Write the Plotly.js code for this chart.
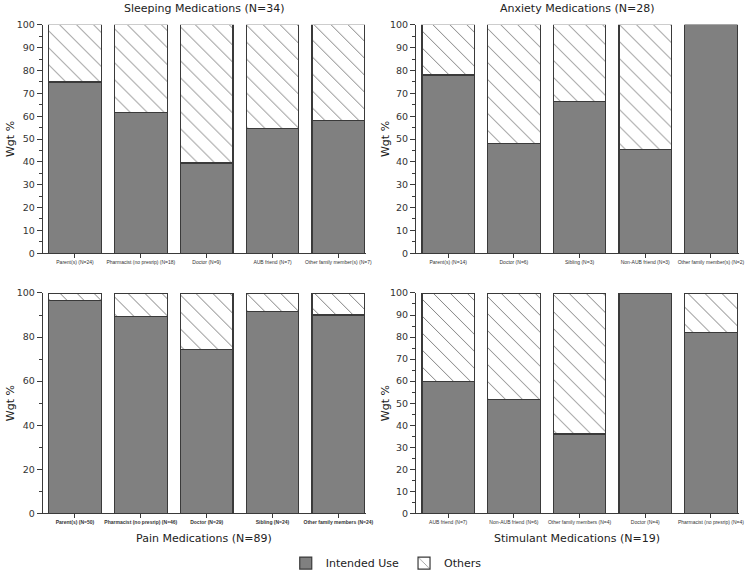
<!DOCTYPE html>
<html>
<head>
<meta charset="utf-8">
<script src="https://cdn.plot.ly/plotly-3.0.1.min.js"></script>
<style>html,body{margin:0;padding:0;background:#fff;}#chart{width:750px;height:578px;}</style>
</head>
<body>
<div id="chart"></div>
<script>
// ---- data ----
const sleepCats = ["Parent(s) (N=24)", "Pharmacist (no presrip) (N=18)", "Doctor (N=9)", "AUB friend (N=7)", "Other family member(s) (N=7)"];
const sleepIntended = [75, 61.5, 39.5, 54.5, 58];
const sleepOthers = [25, 38.5, 60.5, 45.5, 42];

const anxCats = ["Parent(s) (N=14)", "Doctor (N=6)", "Sibling (N=3)", "Non-AUB friend (N=3)", "Other family member(s) (N=2)"];
const anxIntended = [78, 48, 66.5, 45.5, 100];
const anxOthers = [22, 52, 33.5, 54.5, 0];

const painCats = ["Parent(s) (N=50)", "Pharmacist (no presrip) (N=46)", "Doctor (N=29)", "Sibling (N=24)", "Other family members (N=24)"];
const painIntended = [96.5, 89.5, 74.5, 91.5, 90];
const painOthers = [3.5, 10.5, 25.5, 8.5, 10];

const stimCats = ["AUB friend (N=7)", "Non-AUB friend (N=6)", "Other family members (N=4)", "Doctor (N=4)", "Pharmacist (no presrip) (N=4)"];
const stimIntended = [60, 51.5, 36, 100, 82];
const stimOthers = [40, 48.5, 64, 0, 18];

const panelTitles = ["Sleeping Medications (N=34)", "Anxiety Medications (N=28)", "Pain Medications (N=89)", "Stimulant Medications (N=19)"];
const seriesNames = ["Intended Use", "Others"];

// ---- styles ----
const grayFill = "#808080";
const edge = "#3a3a3a";
const W = 750, H = 578;

const panels = [
  {cats: sleepCats, a: sleepIntended, b: sleepOthers, xa: "x", ya: "y", bold: false},
  {cats: anxCats, a: anxIntended, b: anxOthers, xa: "x2", ya: "y2", bold: false},
  {cats: painCats, a: painIntended, b: painOthers, xa: "x3", ya: "y3", bold: true},
  {cats: stimCats, a: stimIntended, b: stimOthers, xa: "x4", ya: "y4", bold: false}
];

const traces = [];
panels.forEach((p, i) => {
  traces.push({
    type: "bar", x: p.cats, y: p.a, xaxis: p.xa, yaxis: p.ya,
    name: seriesNames[0], legendgroup: "a", showlegend: i === 0,
    width: 0.8,
    marker: {color: grayFill, line: {color: edge, width: 1.2}},
    hoverinfo: "skip"
  });
  traces.push({
    type: "bar", x: p.cats, y: p.b, xaxis: p.xa, yaxis: p.ya,
    name: seriesNames[1], legendgroup: "b", showlegend: i === 0,
    width: 0.8,
    marker: {color: "#ffffff", line: {color: edge, width: 1.2},
      pattern: {shape: "\\", fgcolor: "#666666", bgcolor: "#ffffff", size: 12, solidity: 0.07}},
    hoverinfo: "skip"
  });
});

const px = v => v / W;
const py = v => 1 - v / H;

function xax(domain, bold) {
  return {
    domain: domain, type: "category", range: [-0.49, 4.42],
    showline: true, linecolor: edge, linewidth: 1,
    ticks: "outside", ticklen: 4, tickcolor: edge,
    tickfont: {family: "Liberation Sans, Arial, sans-serif", size: 5, color: "#333", weight: bold ? "bold" : "normal"},
    tickangle: 0, showgrid: false, zeroline: false, fixedrange: true
  };
}
function yax(domain, dtick, minor) {
  return {
    domain: domain, range: [0, 100], dtick: dtick,
    showline: true, linecolor: edge, linewidth: 1,
    ticks: "outside", ticklen: 5, tickcolor: edge,
    minor: {ticks: "outside", dtick: minor, ticklen: 3, tickcolor: edge, showgrid: false},
    tickfont: {family: "DejaVu Sans, sans-serif", size: 9.5, color: "#333"},
    showgrid: false, zeroline: false, fixedrange: true
  };
}

const xL = [px(42.7), px(366)];
const xR = [px(416), px(738.5)];
const yT = [py(255), py(25)];
const yB = [py(517), py(295)];

const titleFont = {family: "DejaVu Sans, sans-serif", size: 11, color: "#222"};
const layout = {
  width: W, height: H,
  margin: {l: 0, r: 0, t: 0, b: 0},
  paper_bgcolor: "#ffffff", plot_bgcolor: "#ffffff",
  barmode: "stack",
  showlegend: true,
  legend: {orientation: "h", x: 0.515, xanchor: "center", y: py(567), yanchor: "middle",
    font: {family: "DejaVu Sans, sans-serif", size: 11, color: "#222"}, itemwidth: 30, traceorder: "normal"},
  xaxis: Object.assign(xax(xL, false), {anchor: "y"}),
  yaxis: Object.assign(yax(yT, 10, 5), {anchor: "x"}),
  xaxis2: Object.assign(xax(xR, false), {anchor: "y2"}),
  yaxis2: Object.assign(yax(yT, 10, 5), {anchor: "x2"}),
  xaxis3: Object.assign(xax(xL, true), {anchor: "y3"}),
  yaxis3: Object.assign(yax(yB, 20, 10), {anchor: "x3"}),
  xaxis4: Object.assign(xax(xR, false), {anchor: "y4"}),
  yaxis4: Object.assign(yax(yB, 10, 5), {anchor: "x4"}),
  annotations: [
    {text: panelTitles[0], x: px(204), y: py(9), xref: "paper", yref: "paper", showarrow: false, font: titleFont, xanchor: "center", yanchor: "middle"},
    {text: panelTitles[1], x: px(577), y: py(9), xref: "paper", yref: "paper", showarrow: false, font: titleFont, xanchor: "center", yanchor: "middle"},
    {text: panelTitles[2], x: px(204), y: py(542), xref: "paper", yref: "paper", showarrow: false, font: titleFont, xanchor: "center", yanchor: "middle"},
    {text: panelTitles[3], x: px(577), y: py(542), xref: "paper", yref: "paper", showarrow: false, font: titleFont, xanchor: "center", yanchor: "middle"},
    {text: "Wgt %", x: px(10), y: py(140), xref: "paper", yref: "paper", showarrow: false, textangle: -90, font: titleFont, xanchor: "center", yanchor: "middle"},
    {text: "Wgt %", x: px(385), y: py(140), xref: "paper", yref: "paper", showarrow: false, textangle: -90, font: titleFont, xanchor: "center", yanchor: "middle"},
    {text: "Wgt %", x: px(10), y: py(406), xref: "paper", yref: "paper", showarrow: false, textangle: -90, font: titleFont, xanchor: "center", yanchor: "middle"},
    {text: "Wgt %", x: px(385), y: py(406), xref: "paper", yref: "paper", showarrow: false, textangle: -90, font: titleFont, xanchor: "center", yanchor: "middle"}
  ]
};

Plotly.newPlot("chart", traces, layout, {displayModeBar: false, staticPlot: true});
</script>
</body>
</html>
